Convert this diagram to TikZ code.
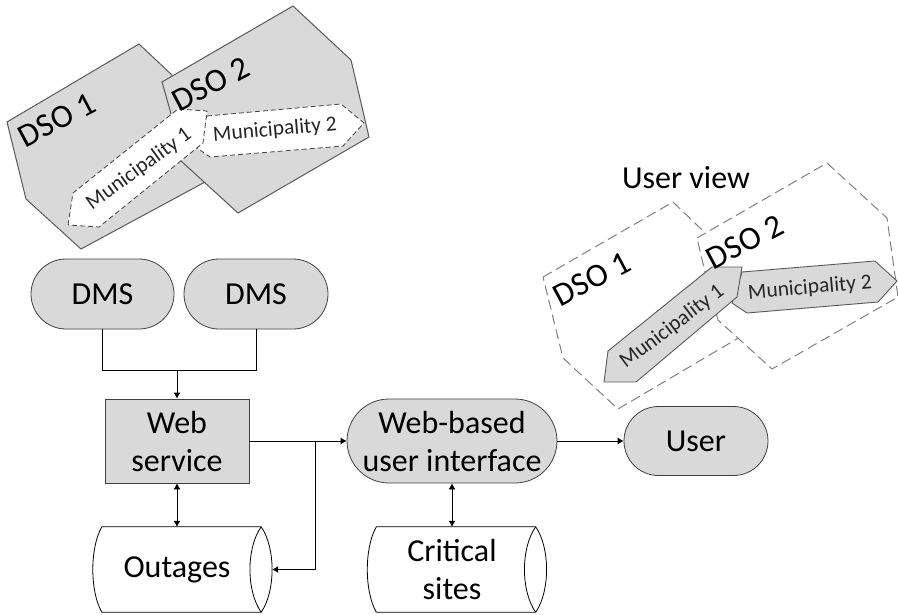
\documentclass[tikz,border=0pt]{standalone}
\usepackage{fontspec}
\setmainfont{Carlito}
\usetikzlibrary{shapes.misc,arrows.meta,calc}
\definecolor{boxgray}{HTML}{D9D9D9}
\definecolor{edgegray}{HTML}{595959}
\definecolor{dashgray}{HTML}{7F7F7F}
\newcommand{\bigtxt}{\fontsize{32}{38}\selectfont}
\newcommand{\midtxt}{\fontsize{33}{38}\selectfont}
\newcommand{\smalltxt}{\fontsize{21.5}{26}\selectfont}
\tikzset{
  x=1pt,y=-1pt,
  pill/.style={rounded rectangle,draw=black!75,line width=0.8pt,fill=boxgray,align=center,font=\bigtxt,inner sep=0pt},
  dbtext/.style={rectangle,draw=none,align=center,font=\bigtxt,minimum width=179pt,minimum height=85pt,inner sep=0pt},
  webbox/.style={rectangle,draw=black!75,line width=0.8pt,fill=boxgray,align=center,font=\bigtxt,inner sep=0pt},
  link/.style={draw=black,line width=0.8pt},
  arrowlink/.style={link,-{Latex[length=6pt,width=7pt]}},
  dbllink/.style={link,{Latex[length=6pt,width=7pt]}-{Latex[length=6pt,width=7pt]}},
  dsofill/.style={fill=boxgray,draw=edgegray,line width=1pt},
  munidash/.style={fill=white,draw=black!75,line width=0.8pt,dash pattern=on 5pt off 3pt},
  viewdash/.style={fill=white,draw=dashgray,line width=1pt,dash pattern=on 10pt off 5pt},
  munifill/.style={fill=boxgray,draw=edgegray,line width=0.9pt},
  dsolabel/.style={font=\midtxt,inner sep=0pt,rotate=28},
  munilabel/.style={font=\smalltxt,inner sep=0pt,text=black!85},
  cyl/.style={fill=white,draw=black,line width=0.8pt},
}
\newcommand{\cylshape}[1]{%
  \draw[cyl] ($(#1.north west)+(9,0)$) -- ($(#1.north east)+(-11,0)$)
    .. controls ($(#1.north east)+(3.5,21)$) and ($(#1.south east)+(3.5,-21)$) .. ($(#1.south east)+(-11,0)$)
    -- ($(#1.south west)+(9,0)$)
    .. controls ($(#1.south west)+(-3,-21)$) and ($(#1.north west)+(-3,21)$) .. cycle;
  \draw[cyl,fill=none] ($(#1.north east)+(-11,0)$)
    .. controls ($(#1.north east)+(-26,21)$) and ($(#1.south east)+(-26,-21)$) .. ($(#1.south east)+(-11,0)$);
}
\begin{document}
\begin{tikzpicture}
\useasboundingbox (0,0) rectangle (898,614);
% grey map
\draw[dsofill] (7,122) -- (139,44) -- (190,92) -- (218,175) -- (81,249) -- (26,199) -- cycle;
\draw[dsofill] (162,82) -- (293,6) -- (351,60) -- (369,137) -- (238,213) -- (180,160) -- (170,110) -- cycle;
\draw[munidash] (207,116) -- (341,104) -- (364,123) -- (343,146) -- (210,157) -- (197,148) -- cycle;
\draw[munidash] (68,225) -- (73,193) -- (178,109) -- (207,111) -- (203,143) -- (99,227) -- cycle;
\node[dsolabel] (dsoa) at (57,120) {DSO 1};
\node[dsolabel] (dsob) at (211,84) {DSO 2};
\node[munilabel,rotate=36] (munia) at (139,169) {Municipality 1};
\node[munilabel,rotate=5] (munib) at (275,130) {Municipality 2};
% user view map
\node[font=\bigtxt,inner sep=0pt] (uview) at (686,178) {User view};
\draw[viewdash] (543,277) -- (673,202) -- (725,252) -- (752,330) -- (618,409) -- (563,358) -- cycle;
\draw[viewdash] (697,238) -- (827,163) -- (887,218) -- (898,297) -- (772,369) -- (718,320) -- (704,268) -- cycle;
\draw[munifill] (742,272) -- (875,261) -- (897,281) -- (878,302) -- (747,313) -- (732,303) -- cycle;
\draw[munifill] (604,382) -- (608,351) -- (712,267) -- (742,267) -- (737,297) -- (636,382) -- cycle;
\node[dsolabel] (dsoc) at (592,279) {DSO 1};
\node[dsolabel] (dsod) at (745,242) {DSO 2};
\node[munilabel,rotate=37] (munic) at (672,327) {Municipality 1};
\node[munilabel,rotate=5] (munid) at (810,288) {Municipality 2};
% flow nodes
\node[pill,minimum width=143pt,minimum height=70pt] (dmsa) at (102.5,294) {DMS};
\node[pill,minimum width=144pt,minimum height=70pt] (dmsb) at (256,294) {DMS};
\node[webbox,minimum width=144pt,minimum height=84pt] (web) at (177,441) {Web\\service};
\node[pill,minimum width=210pt,minimum height=84pt] (ui) at (452,441) {Web-based\\user interface};
\node[pill,minimum width=144pt,minimum height=69pt] (user) at (696,441) {User};
\node[dbtext] (outages) at (182.5,569.5) {};
\cylshape{outages}
\node[font=\bigtxt,inner sep=0pt] (outagestxt) at (177,569.5) {Outages};
\node[dbtext] (sites) at (457,569.5) {};
\cylshape{sites}
\node[font=\bigtxt,align=center,inner sep=0pt] (sitestxt) at (452,569.5) {Critical\\sites};
% connectors
\coordinate (joinA) at (177,370);
\coordinate (joinB) at (315,441);
\draw[link] (dmsa.south) |- (joinA);
\draw[link] (dmsb.south) |- (joinA);
\draw[arrowlink] (joinA) -- (web.north);
\draw[arrowlink] (web.east) -- (ui.west);
\draw[arrowlink] (joinB) |- (outages.east);
\draw[arrowlink] (ui.east) -- (user.west);
\draw[dbllink] (web.south) -- (outages.north -| web.south);
\draw[dbllink] (ui.south) -- (sites.north -| ui.south);
\end{tikzpicture}
\end{document}
